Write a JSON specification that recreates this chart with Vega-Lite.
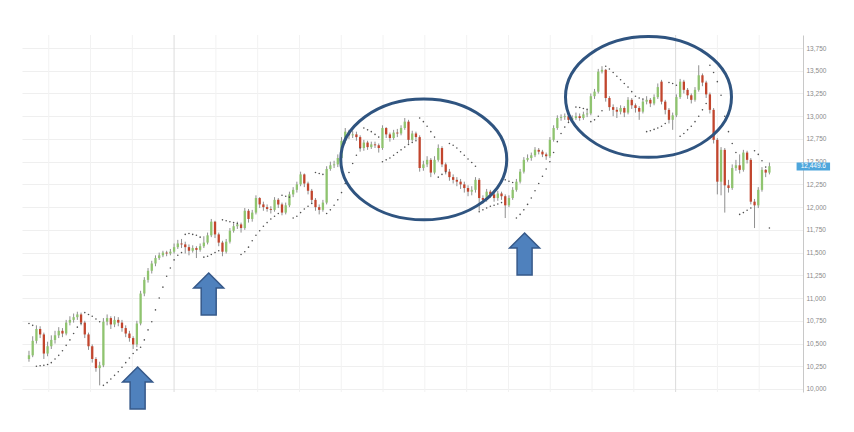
{
"$schema":"https://vega.github.io/schema/vega-lite/v6.json",
"autosize":"none",
"width":781,"height":357,
"padding":{"left":22,"top":35,"right":51,"bottom":40},
"background":"white",
"config":{"view":{"stroke":null},"font":"Liberation Sans",
 "axisY":{"labelFontSize":6.5,"labelColor":"#8a8a8a","labelPadding":3,"ticks":false,"labelOverlap":false,"domainColor":"#c8c8c8","gridColor":"#efefef","labelFont":"Liberation Sans"}},
"datasets":{
"candles":[
{"i":0,"o":10330,"h":10420,"l":10300,"c":10370,"s":10720},
{"i":1,"o":10370,"h":10580,"l":10350,"c":10530,"s":10700},
{"i":2,"o":10530,"h":10700,"l":10500,"c":10660,"s":10250},
{"i":3,"o":10660,"h":10690,"l":10560,"c":10600,"s":10255},
{"i":4,"o":10600,"h":10620,"l":10330,"c":10390,"s":10260},
{"i":5,"o":10390,"h":10520,"l":10360,"c":10470,"s":10270},
{"i":6,"o":10470,"h":10590,"l":10440,"c":10540,"s":10290},
{"i":7,"o":10540,"h":10640,"l":10500,"c":10590,"s":10330},
{"i":8,"o":10590,"h":10680,"l":10560,"c":10640,"s":10370},
{"i":9,"o":10640,"h":10670,"l":10570,"c":10610,"s":10420},
{"i":10,"o":10610,"h":10760,"l":10590,"c":10730,"s":10480},
{"i":11,"o":10730,"h":10800,"l":10700,"c":10760,"s":10540},
{"i":12,"o":10760,"h":10830,"l":10730,"c":10790,"s":10610},
{"i":13,"o":10790,"h":10850,"l":10760,"c":10820,"s":10680},
{"i":14,"o":10820,"h":10840,"l":10700,"c":10730,"s":10720},
{"i":15,"o":10730,"h":10750,"l":10560,"c":10600,"s":10840},
{"i":16,"o":10600,"h":10620,"l":10430,"c":10470,"s":10820},
{"i":17,"o":10470,"h":10490,"l":10290,"c":10330,"s":10800},
{"i":18,"o":10330,"h":10350,"l":10190,"c":10230,"s":10770},
{"i":19,"o":10230,"h":10300,"l":10040,"c":10260,"s":10740},
{"i":20,"o":10260,"h":10780,"l":10240,"c":10740,"s":10040},
{"i":21,"o":10740,"h":10820,"l":10700,"c":10780,"s":10070},
{"i":22,"o":10780,"h":10800,"l":10660,"c":10710,"s":10110},
{"i":23,"o":10710,"h":10800,"l":10680,"c":10760,"s":10150},
{"i":24,"o":10760,"h":10790,"l":10690,"c":10730,"s":10190},
{"i":25,"o":10730,"h":10760,"l":10630,"c":10670,"s":10240},
{"i":26,"o":10670,"h":10700,"l":10570,"c":10610,"s":10290},
{"i":27,"o":10610,"h":10640,"l":10520,"c":10560,"s":10340},
{"i":28,"o":10560,"h":10580,"l":10440,"c":10490,"s":10390},
{"i":29,"o":10490,"h":10750,"l":10460,"c":10720,"s":10430},
{"i":30,"o":10720,"h":11080,"l":10700,"c":11050,"s":10460},
{"i":31,"o":11050,"h":11230,"l":11020,"c":11200,"s":10540},
{"i":32,"o":11200,"h":11330,"l":11170,"c":11300,"s":10650},
{"i":33,"o":11300,"h":11410,"l":11270,"c":11380,"s":10740},
{"i":34,"o":11380,"h":11470,"l":11350,"c":11440,"s":10870},
{"i":35,"o":11440,"h":11500,"l":11420,"c":11470,"s":11000},
{"i":36,"o":11470,"h":11520,"l":11450,"c":11500,"s":11120},
{"i":37,"o":11500,"h":11520,"l":11460,"c":11490,"s":11240},
{"i":38,"o":11490,"h":11540,"l":11470,"c":11510,"s":11330},
{"i":39,"o":11510,"h":11600,"l":11490,"c":11560,"s":11420},
{"i":40,"o":11560,"h":11640,"l":11540,"c":11600,"s":11470},
{"i":41,"o":11600,"h":11650,"l":11550,"c":11590,"s":11500},
{"i":42,"o":11590,"h":11620,"l":11490,"c":11560,"s":11700},
{"i":43,"o":11560,"h":11590,"l":11470,"c":11520,"s":11710},
{"i":44,"o":11520,"h":11580,"l":11500,"c":11550,"s":11700},
{"i":45,"o":11550,"h":11570,"l":11440,"c":11530,"s":11690},
{"i":46,"o":11530,"h":11600,"l":11510,"c":11570,"s":11670},
{"i":47,"o":11570,"h":11680,"l":11550,"c":11610,"s":11450},
{"i":48,"o":11610,"h":11720,"l":11590,"c":11690,"s":11460},
{"i":49,"o":11690,"h":11870,"l":11670,"c":11840,"s":11480},
{"i":50,"o":11840,"h":11850,"l":11660,"c":11700,"s":11500},
{"i":51,"o":11700,"h":11720,"l":11570,"c":11610,"s":11520},
{"i":52,"o":11610,"h":11630,"l":11460,"c":11510,"s":11860},
{"i":53,"o":11510,"h":11650,"l":11490,"c":11620,"s":11850},
{"i":54,"o":11620,"h":11770,"l":11600,"c":11740,"s":11840},
{"i":55,"o":11740,"h":11820,"l":11720,"c":11790,"s":11830},
{"i":56,"o":11790,"h":11840,"l":11760,"c":11810,"s":11820},
{"i":57,"o":11810,"h":11830,"l":11720,"c":11770,"s":11480},
{"i":58,"o":11770,"h":11990,"l":11750,"c":11960,"s":11510},
{"i":59,"o":11960,"h":11980,"l":11830,"c":11870,"s":11560},
{"i":60,"o":11870,"h":11970,"l":11840,"c":11940,"s":11630},
{"i":61,"o":11940,"h":12130,"l":11920,"c":12100,"s":11690},
{"i":62,"o":12100,"h":12110,"l":11990,"c":12030,"s":11740},
{"i":63,"o":12030,"h":12060,"l":11960,"c":12000,"s":11790},
{"i":64,"o":12000,"h":12030,"l":11950,"c":11980,"s":11830},
{"i":65,"o":11980,"h":12010,"l":11930,"c":11970,"s":11870},
{"i":66,"o":11970,"h":12110,"l":11950,"c":12080,"s":11900},
{"i":67,"o":12080,"h":12100,"l":11990,"c":12030,"s":11930},
{"i":68,"o":12030,"h":12050,"l":11910,"c":11940,"s":12130},
{"i":69,"o":11940,"h":12050,"l":11920,"c":12020,"s":12120},
{"i":70,"o":12020,"h":12170,"l":12000,"c":12140,"s":12110},
{"i":71,"o":12140,"h":12220,"l":12110,"c":12190,"s":11880},
{"i":72,"o":12190,"h":12280,"l":12160,"c":12250,"s":11900},
{"i":73,"o":12250,"h":12390,"l":12230,"c":12360,"s":11940},
{"i":74,"o":12360,"h":12370,"l":12220,"c":12260,"s":11980},
{"i":75,"o":12260,"h":12280,"l":12140,"c":12180,"s":12010},
{"i":76,"o":12180,"h":12200,"l":12040,"c":12080,"s":12040},
{"i":77,"o":12080,"h":12100,"l":11960,"c":12000,"s":12380},
{"i":78,"o":12000,"h":12030,"l":11920,"c":11970,"s":12370},
{"i":79,"o":11970,"h":12080,"l":11950,"c":12050,"s":12360},
{"i":80,"o":12050,"h":12450,"l":12030,"c":12420,"s":11930},
{"i":81,"o":12420,"h":12500,"l":12400,"c":12460,"s":11970},
{"i":82,"o":12460,"h":12510,"l":12430,"c":12470,"s":12020},
{"i":83,"o":12470,"h":12580,"l":12440,"c":12540,"s":12080},
{"i":84,"o":12540,"h":12770,"l":12520,"c":12730,"s":12160},
{"i":85,"o":12730,"h":12870,"l":12700,"c":12830,"s":12260},
{"i":86,"o":12830,"h":12850,"l":12750,"c":12790,"s":12380},
{"i":87,"o":12790,"h":12840,"l":12760,"c":12800,"s":12480},
{"i":88,"o":12800,"h":12830,"l":12730,"c":12770,"s":12570},
{"i":89,"o":12770,"h":12790,"l":12610,"c":12650,"s":12650},
{"i":90,"o":12650,"h":12740,"l":12620,"c":12710,"s":12870},
{"i":91,"o":12710,"h":12730,"l":12630,"c":12660,"s":12850},
{"i":92,"o":12660,"h":12720,"l":12640,"c":12690,"s":12830},
{"i":93,"o":12690,"h":12720,"l":12650,"c":12680,"s":12800},
{"i":94,"o":12680,"h":12700,"l":12600,"c":12650,"s":12770},
{"i":95,"o":12650,"h":12900,"l":12630,"c":12870,"s":12500},
{"i":96,"o":12870,"h":12880,"l":12760,"c":12800,"s":12520},
{"i":97,"o":12800,"h":12820,"l":12720,"c":12760,"s":12540},
{"i":98,"o":12760,"h":12850,"l":12740,"c":12820,"s":12570},
{"i":99,"o":12820,"h":12860,"l":12770,"c":12810,"s":12600},
{"i":100,"o":12810,"h":12900,"l":12790,"c":12870,"s":12630},
{"i":101,"o":12870,"h":12980,"l":12850,"c":12940,"s":12660},
{"i":102,"o":12940,"h":12960,"l":12700,"c":12740,"s":12690},
{"i":103,"o":12740,"h":12840,"l":12720,"c":12810,"s":12710},
{"i":104,"o":12810,"h":12830,"l":12740,"c":12770,"s":12730},
{"i":105,"o":12770,"h":12790,"l":12390,"c":12430,"s":12980},
{"i":106,"o":12430,"h":12510,"l":12400,"c":12470,"s":12940},
{"i":107,"o":12470,"h":12560,"l":12440,"c":12520,"s":12890},
{"i":108,"o":12520,"h":12540,"l":12330,"c":12380,"s":12830},
{"i":109,"o":12380,"h":12560,"l":12360,"c":12520,"s":12770},
{"i":110,"o":12520,"h":12690,"l":12500,"c":12650,"s":12330},
{"i":111,"o":12650,"h":12670,"l":12440,"c":12470,"s":12360},
{"i":112,"o":12470,"h":12490,"l":12360,"c":12390,"s":12390},
{"i":113,"o":12390,"h":12420,"l":12290,"c":12330,"s":12700},
{"i":114,"o":12330,"h":12360,"l":12260,"c":12300,"s":12680},
{"i":115,"o":12300,"h":12330,"l":12230,"c":12280,"s":12650},
{"i":116,"o":12280,"h":12310,"l":12200,"c":12250,"s":12610},
{"i":117,"o":12250,"h":12280,"l":12160,"c":12210,"s":12570},
{"i":118,"o":12210,"h":12240,"l":12120,"c":12170,"s":12530},
{"i":119,"o":12170,"h":12230,"l":12130,"c":12190,"s":12490},
{"i":120,"o":12190,"h":12330,"l":12160,"c":12300,"s":12450},
{"i":121,"o":12300,"h":12320,"l":11960,"c":12100,"s":11950},
{"i":122,"o":12100,"h":12130,"l":12040,"c":12080,"s":11970},
{"i":123,"o":12080,"h":12200,"l":12060,"c":12170,"s":11990},
{"i":124,"o":12170,"h":12190,"l":12100,"c":12140,"s":12010},
{"i":125,"o":12140,"h":12160,"l":12060,"c":12100,"s":12020},
{"i":126,"o":12100,"h":12180,"l":12070,"c":12150,"s":12035},
{"i":127,"o":12150,"h":12170,"l":12080,"c":12120,"s":12050},
{"i":128,"o":12120,"h":12140,"l":11880,"c":12020,"s":12300},
{"i":129,"o":12020,"h":12130,"l":12000,"c":12100,"s":12285},
{"i":130,"o":12100,"h":12220,"l":12080,"c":12190,"s":12270},
{"i":131,"o":12190,"h":12310,"l":12170,"c":12280,"s":11880},
{"i":132,"o":12280,"h":12420,"l":12260,"c":12390,"s":11920},
{"i":133,"o":12390,"h":12550,"l":12370,"c":12520,"s":11970},
{"i":134,"o":12520,"h":12580,"l":12500,"c":12540,"s":12030},
{"i":135,"o":12540,"h":12600,"l":12510,"c":12570,"s":12100},
{"i":136,"o":12570,"h":12660,"l":12550,"c":12630,"s":12180},
{"i":137,"o":12630,"h":12650,"l":12580,"c":12610,"s":12260},
{"i":138,"o":12610,"h":12630,"l":12550,"c":12580,"s":12340},
{"i":139,"o":12580,"h":12600,"l":12520,"c":12560,"s":12420},
{"i":140,"o":12560,"h":12770,"l":12540,"c":12740,"s":12500},
{"i":141,"o":12740,"h":12900,"l":12720,"c":12870,"s":12600},
{"i":142,"o":12870,"h":13010,"l":12850,"c":12980,"s":12720},
{"i":143,"o":12980,"h":13020,"l":12950,"c":12990,"s":12810},
{"i":144,"o":12990,"h":13030,"l":12960,"c":13000,"s":12880},
{"i":145,"o":13000,"h":13020,"l":12930,"c":12960,"s":12930},
{"i":146,"o":12960,"h":13010,"l":12940,"c":12980,"s":12960},
{"i":147,"o":12980,"h":13040,"l":12960,"c":13000,"s":13100},
{"i":148,"o":13000,"h":13030,"l":12950,"c":12980,"s":13095},
{"i":149,"o":12980,"h":13050,"l":12960,"c":13020,"s":13085},
{"i":150,"o":13020,"h":13070,"l":12990,"c":13030,"s":13075},
{"i":151,"o":13030,"h":13250,"l":13010,"c":13220,"s":12940},
{"i":152,"o":13220,"h":13300,"l":13190,"c":13270,"s":12960},
{"i":153,"o":13270,"h":13520,"l":13250,"c":13490,"s":13000},
{"i":154,"o":13490,"h":13550,"l":13470,"c":13510,"s":13060},
{"i":155,"o":13510,"h":13520,"l":13160,"c":13200,"s":13550},
{"i":156,"o":13200,"h":13220,"l":13060,"c":13100,"s":13520},
{"i":157,"o":13100,"h":13130,"l":13000,"c":13070,"s":13480},
{"i":158,"o":13070,"h":13100,"l":12980,"c":13050,"s":13440},
{"i":159,"o":13050,"h":13120,"l":13020,"c":13090,"s":13400},
{"i":160,"o":13090,"h":13110,"l":12990,"c":13040,"s":13360},
{"i":161,"o":13040,"h":13210,"l":13020,"c":13180,"s":13320},
{"i":162,"o":13180,"h":13200,"l":13080,"c":13120,"s":13270},
{"i":163,"o":13120,"h":13140,"l":13040,"c":13090,"s":13220},
{"i":164,"o":13090,"h":13110,"l":12960,"c":13050,"s":13200},
{"i":165,"o":13050,"h":13190,"l":13030,"c":13160,"s":13190},
{"i":166,"o":13160,"h":13220,"l":13130,"c":13180,"s":12830},
{"i":167,"o":13180,"h":13200,"l":13100,"c":13140,"s":12840},
{"i":168,"o":13140,"h":13240,"l":13120,"c":13210,"s":12855},
{"i":169,"o":13210,"h":13360,"l":13190,"c":13320,"s":12870},
{"i":170,"o":13380,"h":13400,"l":13130,"c":13160,"s":12890},
{"i":171,"o":13160,"h":13180,"l":13020,"c":13070,"s":12920},
{"i":172,"o":13070,"h":13090,"l":12920,"c":12960,"s":13370},
{"i":173,"o":12960,"h":13040,"l":12850,"c":13010,"s":13360},
{"i":174,"o":13010,"h":13240,"l":12990,"c":13210,"s":13340},
{"i":175,"o":13210,"h":13410,"l":13190,"c":13380,"s":12780},
{"i":176,"o":13380,"h":13400,"l":13250,"c":13290,"s":12810},
{"i":177,"o":13290,"h":13310,"l":13190,"c":13230,"s":12850},
{"i":178,"o":13230,"h":13250,"l":13140,"c":13180,"s":12890},
{"i":179,"o":13180,"h":13320,"l":13160,"c":13290,"s":12940},
{"i":180,"o":13290,"h":13560,"l":13270,"c":13450,"s":13000},
{"i":181,"o":13450,"h":13470,"l":13330,"c":13370,"s":13070},
{"i":182,"o":13370,"h":13390,"l":13200,"c":13240,"s":13140},
{"i":183,"o":13240,"h":13260,"l":13030,"c":13070,"s":13560},
{"i":184,"o":13070,"h":13090,"l":12700,"c":12740,"s":13480},
{"i":185,"o":12740,"h":12760,"l":12140,"c":12280,"s":13380},
{"i":186,"o":12280,"h":12660,"l":12130,"c":12630,"s":13230},
{"i":187,"o":12630,"h":12650,"l":11940,"c":12240,"s":13000},
{"i":188,"o":12240,"h":12300,"l":12160,"c":12210,"s":12830},
{"i":189,"o":12210,"h":12470,"l":12190,"c":12430,"s":12700},
{"i":190,"o":12430,"h":12520,"l":12400,"c":12460,"s":12600},
{"i":191,"o":12460,"h":12580,"l":12370,"c":12410,"s":11920},
{"i":192,"o":12410,"h":12630,"l":12390,"c":12600,"s":11940},
{"i":193,"o":12600,"h":12620,"l":12480,"c":12520,"s":11965},
{"i":194,"o":12520,"h":12540,"l":12030,"c":12060,"s":11990},
{"i":195,"o":12060,"h":12090,"l":11770,"c":12020,"s":12620},
{"i":196,"o":12020,"h":12220,"l":11990,"c":12190,"s":12580},
{"i":197,"o":12190,"h":12440,"l":12170,"c":12410,"s":12510},
{"i":198,"o":12410,"h":12420,"l":12330,"c":12380,"s":12440},
{"i":199,"o":12380,"h":12490,"l":12360,"c":12450,"s":11770}
],
"vgrid":[
{"i":5.31,"k":0},{"i":16.54,"k":0},{"i":27.77,"k":0},{"i":39.0,"k":1},{"i":50.23,"k":0},{"i":61.47,"k":0},
{"i":72.7,"k":0},{"i":83.93,"k":0},{"i":95.16,"k":0},{"i":106.39,"k":0},{"i":117.63,"k":0},{"i":128.86,"k":0},
{"i":140.09,"k":0},{"i":151.32,"k":0},{"i":162.55,"k":0},{"i":173.79,"k":1},{"i":185.02,"k":0},{"i":196.25,"k":0}
],
"ell":[{"i":106.1,"v":12525},{"i":166.5,"v":13212}],
"arr":[{"i":29.2,"v":10011},{"i":48.3,"v":11045},{"i":133.2,"v":11485}],
"tag":[{"x1":206.3,"x2":215.3,"y1":12404,"y2":12492,"xm":210.8,"ym":12448,"label":"12,449.6"}]
},
"encoding":{
 "y":{"type":"quantitative","scale":{"domain":[9967,13893],"nice":false,"zero":false},
  "axis":{"orient":"right","title":null,"grid":true,"format":",d","labelOverlap":false,
   "values":[10000,10250,10500,10750,11000,11250,11500,11750,12000,12250,12500,12750,13000,13250,13500,13750]}}
},
"layer":[
{"data":{"name":"vgrid"},"mark":{"type":"rule","strokeWidth":1},
 "encoding":{"x":{"field":"i","type":"quantitative","scale":{"domain":[-0.53,206.68],"nice":false,"zero":false},"axis":null},
  "y":null,
  "color":{"condition":{"test":"datum.k == 1","value":"#dcdcdc"},"value":"#f2f2f2"}}},
{"data":{"name":"candles"},"mark":{"type":"rule","color":"#8f8f8f","strokeWidth":1},
 "encoding":{"x":{"field":"i","type":"quantitative"},"y":{"field":"l"},"y2":{"field":"h"}}},
{"data":{"name":"candles"},"mark":{"type":"bar","width":2.3},
 "encoding":{"x":{"field":"i","type":"quantitative"},"y":{"field":"o"},"y2":{"field":"c"},
  "color":{"condition":{"test":"datum.c < datum.o","value":"#c2452d"},"value":"#8fc46f"}}},
{"data":{"name":"candles"},"mark":{"type":"point","filled":true,"size":2.5,"color":"#505050","opacity":1},
 "encoding":{"x":{"field":"i","type":"quantitative"},"y":{"field":"s"}}},
{"data":{"name":"ell"},"mark":{"type":"point","filled":false,"size":27556,"stroke":"#2f5480","strokeWidth":3,"opacity":1,
  "shape":"M1,0C1,0.402,0.552,0.728,0,0.728C-0.552,0.728,-1,0.402,-1,0C-1,-0.402,-0.552,-0.728,0,-0.728C0.552,-0.728,1,-0.402,1,0Z"},
 "encoding":{"x":{"field":"i","type":"quantitative"},"y":{"field":"v"}}},
{"data":{"name":"arr"},"mark":{"type":"point","filled":true,"size":1764,"fill":"#4f81bd","stroke":"#36598a","strokeWidth":1.5,"opacity":1,
  "shape":"M0,-1L0.714,-0.286L0.357,-0.286L0.357,1L-0.357,1L-0.357,-0.286L-0.714,-0.286Z"},
 "encoding":{"x":{"field":"i","type":"quantitative"},"y":{"field":"v"}}},
{"data":{"name":"tag"},"mark":{"type":"rect","color":"#4ea6dc"},
 "encoding":{"x":{"field":"x1","type":"quantitative"},"x2":{"field":"x2"},"y":{"field":"y1"},"y2":{"field":"y2"}}},
{"data":{"name":"tag"},"mark":{"type":"text","color":"white","fontSize":6.5,"align":"center","baseline":"middle","font":"Liberation Sans"},
 "encoding":{"x":{"field":"xm","type":"quantitative"},"y":{"field":"ym"},"text":{"field":"label"}}}
]
}
